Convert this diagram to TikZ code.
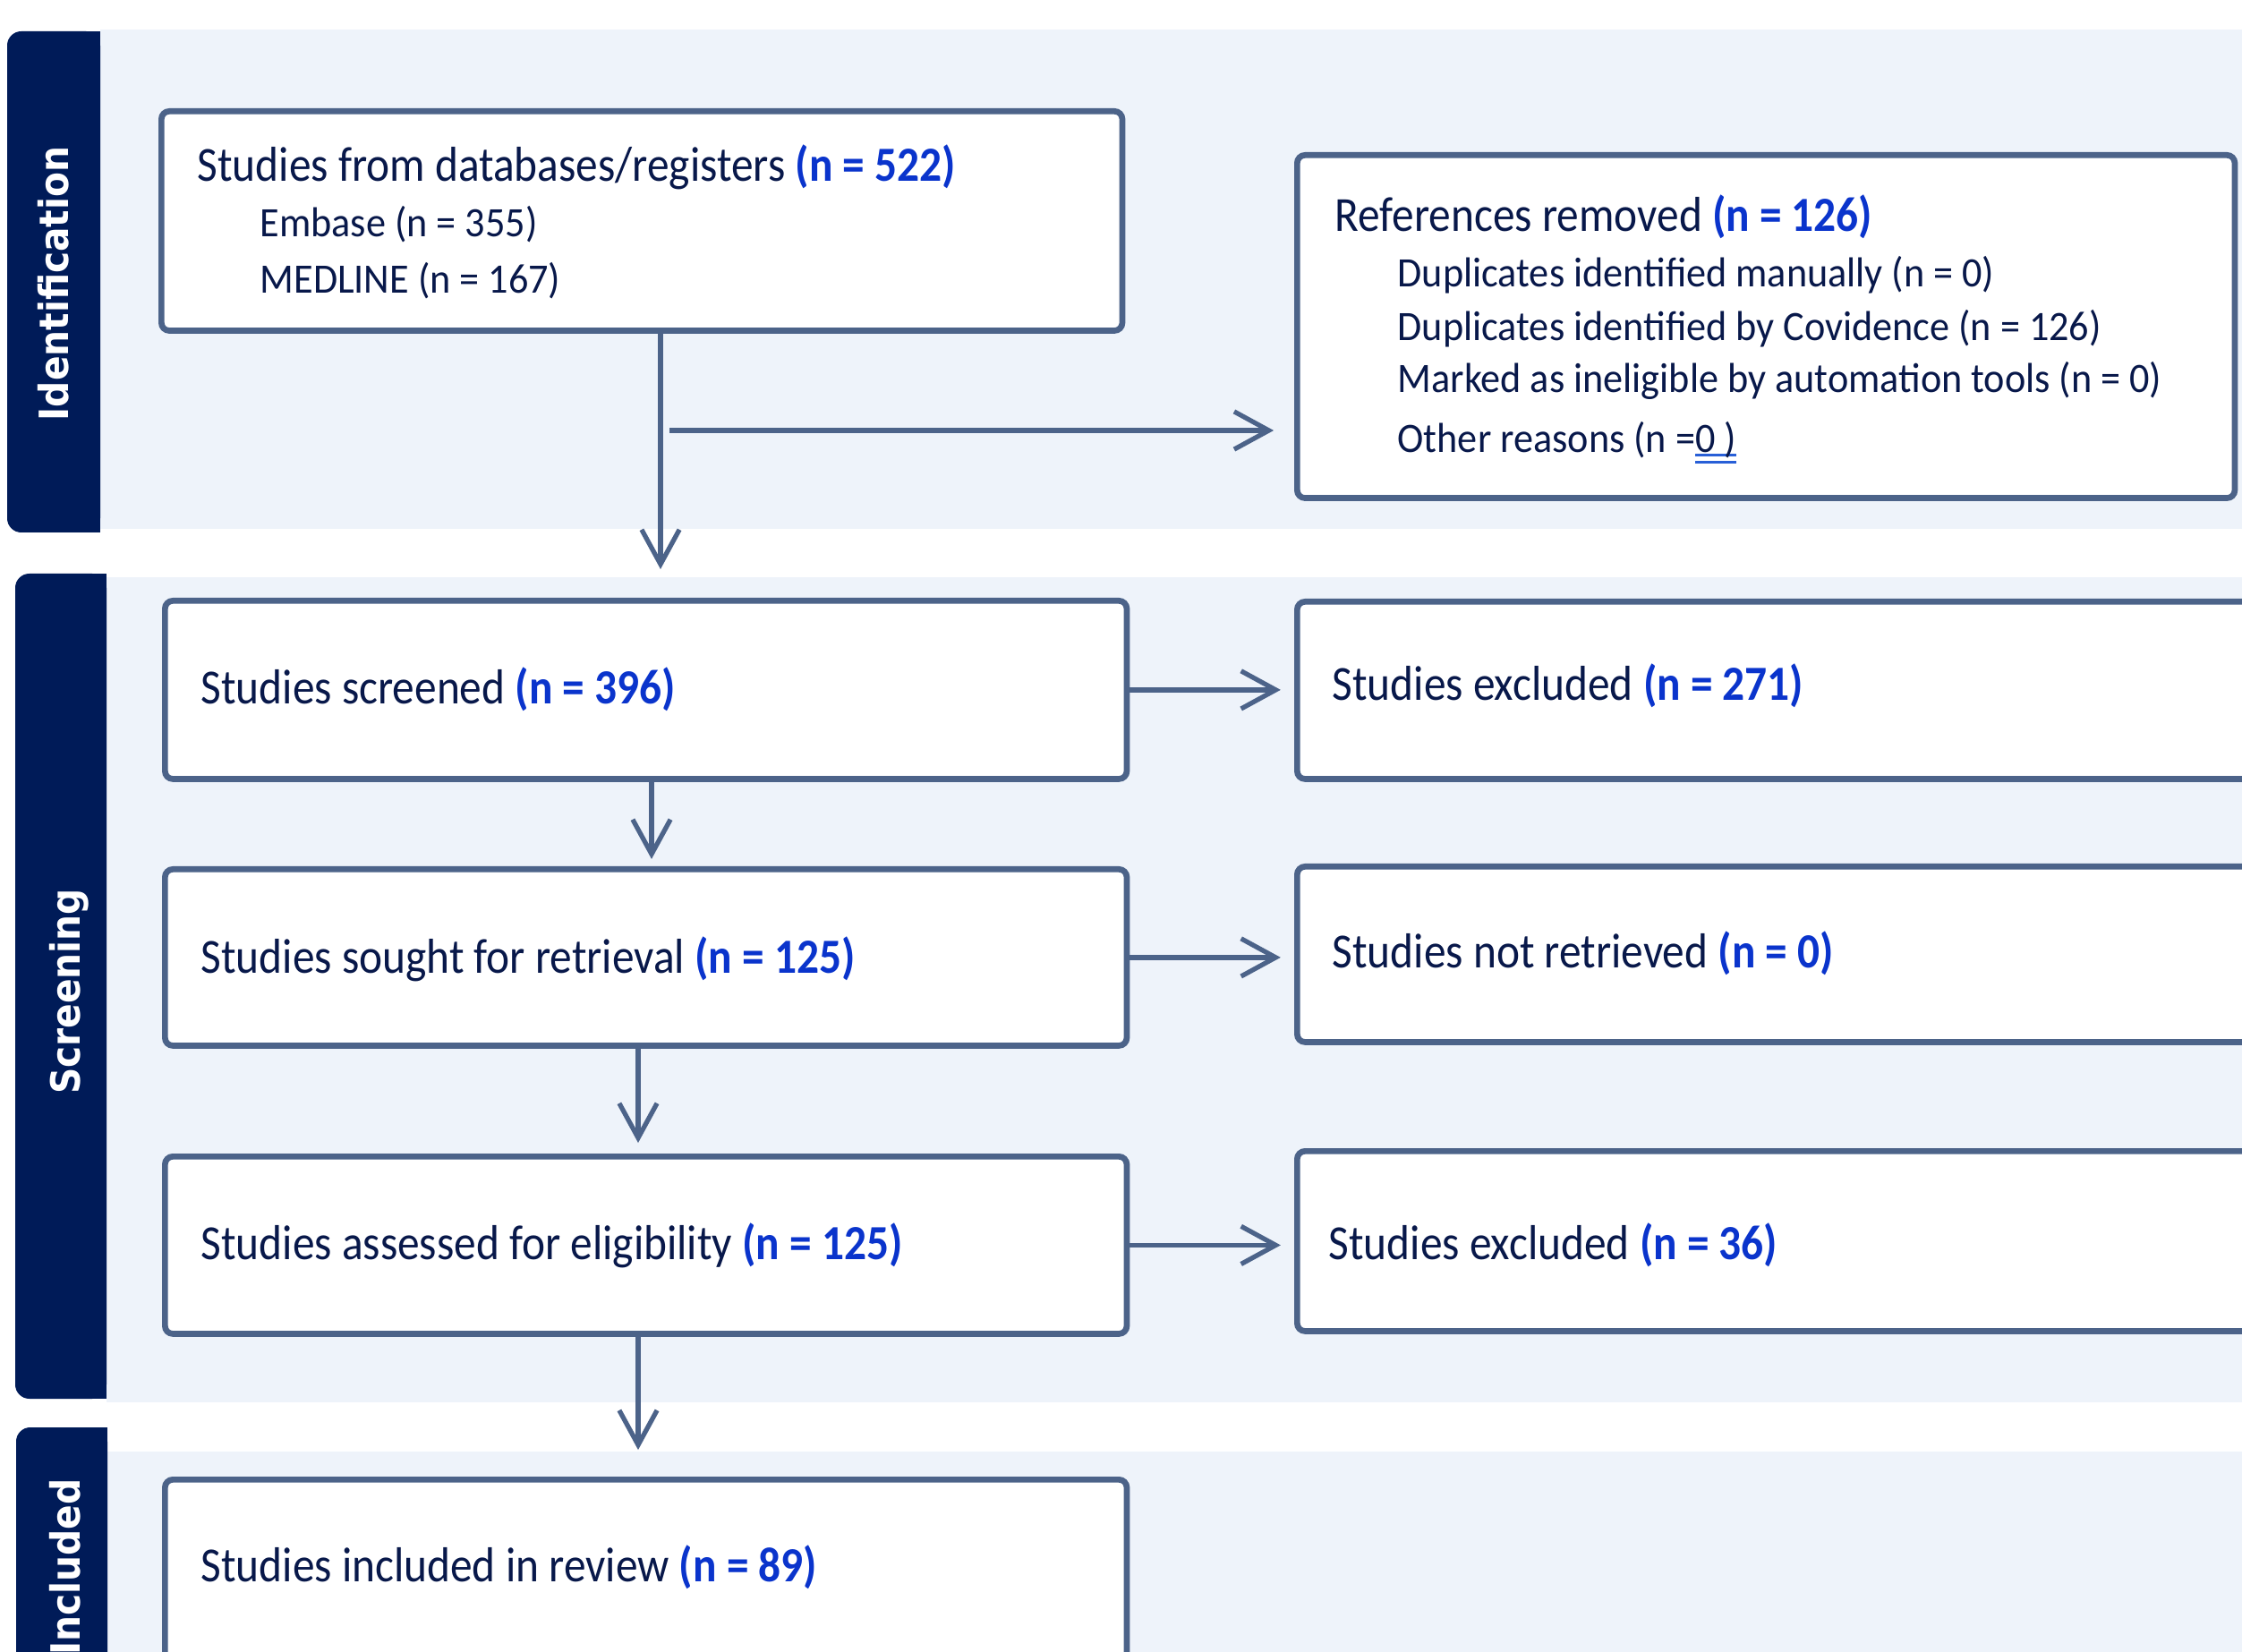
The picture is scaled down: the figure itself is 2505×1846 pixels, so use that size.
\documentclass[tikz,border=0pt]{standalone}
\usepackage{fontspec}
\usetikzlibrary{arrows.meta}
\newfontfamily\mainf[FakeStretch=0.90]{Carlito}
\newfontfamily\subf[FakeStretch=0.945]{Carlito}
\newfontfamily\sidef[FakeStretch=0.905]{DejaVu Sans}
\definecolor{navy}{RGB}{0,27,88}
\definecolor{band}{RGB}{238,243,250}
\definecolor{edge}{RGB}{76,99,137}
\definecolor{txt}{RGB}{8,24,74}
\definecolor{nblue}{RGB}{10,52,204}
\definecolor{ulblue}{RGB}{40,95,215}
\newcommand\nv[1]{{\bfseries\color{nblue}#1}}
\newcommand\myul[1]{\setbox0\hbox{#1}\rlap{\color{ulblue}\rule[-1pt]{\wd0}{0.8pt}}\rlap{\color{ulblue}\rule[-3.5pt]{\wd0}{0.8pt}}\box0}
\begin{document}
\begin{tikzpicture}[x=0.01cm,y=-0.01cm,
  box/.style={draw=edge, line width=1.9pt, fill=white, rounded corners=2.5pt, inner sep=0pt},
  arr/.style={draw=edge, line width=1.5pt, -{Straight Barb[length=11pt,width=12pt]}},
  head/.style={anchor=base west, inner sep=0pt, text=txt, font=\mainf\fontsize{15.6}{18}\selectfont},
  sub/.style={anchor=base west, inner sep=0pt, text=txt, font=\subf\fontsize{13.3}{16}\selectfont},
  side/.style={rotate=90, anchor=base, inner sep=0pt, text=white, font=\sidef\bfseries\fontsize{12.8}{14}\selectfont}]
\useasboundingbox (0,0) rectangle (2505,1846);
\clip (0,0) rectangle (2505,1846);
\fill[white] (0,0) rectangle (2505,1846);
% bands
\fill[band] (112,33) rectangle (2505,591);
\fill[band] (119,645) rectangle (2505,1567);
\fill[band] (120,1622) rectangle (2505,1900);
% sidebars
\fill[navy, rounded corners=4.5pt] (8,35) rectangle (112,595);
\fill[navy] (60,35) rectangle (112,595);
\fill[navy, rounded corners=4.5pt] (17,641) rectangle (119,1563);
\fill[navy] (70,641) rectangle (119,1563);
\fill[navy, rounded corners=4.5pt] (18,1595) rectangle (120,1900);
\fill[navy] (70,1595) rectangle (120,1900);
\node[side] (s1) at (77,317) {Identification};
\node[side] (s2) at (90,1108) {Screening};
\node[side] (s3) at (89,1751) {Included};
% boxes
\node[box, anchor=north west, minimum width=10.73cm, minimum height=2.45cm] (B1) at (177,121) {};
\node[box, anchor=north west, minimum width=10.47cm, minimum height=3.83cm] (B2) at (1446,170) {};
\node[box, anchor=north west, minimum width=10.74cm, minimum height=1.99cm] (B3) at (181,668) {};
\node[box, anchor=north west, minimum width=10.74cm, minimum height=1.97cm] (B4) at (181,968) {};
\node[box, anchor=north west, minimum width=10.74cm, minimum height=1.98cm] (B5) at (181,1289) {};
\node[box, anchor=north west, minimum width=11cm, minimum height=1.98cm] (B6) at (1446,669) {};
\node[box, anchor=north west, minimum width=11cm, minimum height=1.96cm] (B7) at (1446,965) {};
\node[box, anchor=north west, minimum width=11cm, minimum height=2.01cm] (B8) at (1446,1283) {};
\node[box, anchor=north west, minimum width=10.74cm, minimum height=2.6cm] (B9) at (181,1650) {};
% texts
\node[head] (t1) at (220,203) {Studies from databases/registers \nv{(n = 522)}};
\node[sub] (t1b) at (290,265) {Embase (n = 355)};
\node[sub] (t1c) at (290,328) {MEDLINE (n = 167)};
\node[head] (t2) at (1491,259) {References removed \nv{(n = 126)}};
\node[sub] (t2b) at (1561,321) {Duplicates identified manually (n = 0)};
\node[sub] (t2c) at (1561,381) {Duplicates identified by Covidence (n = 126)};
\node[sub] (t2d) at (1561,439) {Marked as ineligible by automation tools (n = 0)};
\node[sub] (t2e) at (1561,506) {Other reasons (n =\myul{0 )}};
\node[head] (t3) at (224,787) {Studies screened \nv{(n = 396)}};
\node[head] (t4) at (224,1087) {Studies sought for retrieval \nv{(n = 125)}};
\node[head] (t5) at (224,1407) {Studies assessed for eligibility \nv{(n = 125)}};
\node[head] (t6) at (1488,783) {Studies excluded \nv{(n = 271)}};
\node[head] (t7) at (1488,1082) {Studies not retrieved \nv{(n = 0)}};
\node[head] (t8) at (1484,1407) {Studies excluded \nv{(n = 36)}};
\node[head] (t9) at (224,1767) {Studies included in review \nv{(n = 89)}};
% connectors
\coordinate (c1) at (738,0);
\coordinate (c2) at (728,0);
\coordinate (c3) at (713,0);
\coordinate (h1) at (748,481);
\draw[arr, shorten >=9.1pt] (B1.south -| c1) -- (B3.north -| c1);
\draw[arr, shorten >=6.5pt] (h1) -- (h1 -| B2.west);
\draw[arr, shorten >=2.3pt] (B3.south -| c2) -- (B4.north -| c2);
\draw[arr, shorten >=3.4pt] (B4.south -| c3) -- (B5.north -| c3);
\draw[arr, shorten >=8.5pt] (B5.south -| c3) -- (B9.north -| c3);
\draw[arr, shorten >=4.3pt] (B3.east) -- (B3.east -| B6.west);
\draw[arr, shorten >=4.3pt] (B4.east) -- (B4.east -| B7.west);
\draw[arr, shorten >=4.3pt] (B5.east) -- (B5.east -| B8.west);
\end{tikzpicture}
\end{document}
